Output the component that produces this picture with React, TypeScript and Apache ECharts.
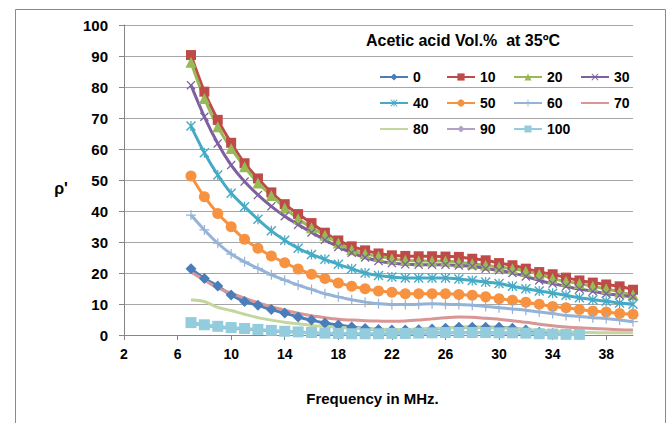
import React, { useEffect, useRef } from "react";
import * as echarts from "echarts";

// Frequency (MHz)
const freq = [7, 8, 9, 10, 11, 12, 13, 14, 15, 16, 17, 18, 19, 20, 21, 22, 23, 24, 25, 26, 27, 28, 29, 30, 31, 32, 33, 34, 35, 36, 37, 38, 39, 40];
const xTicks = [2, 6, 10, 14, 18, 22, 26, 30, 34, 38];
const seriesNames = ["0", "10", "20", "30", "40", "50", "60", "70", "80", "90", "100"];

const s0 = [21.4, 18.2, 15.8, 12.9, 10.8, 9.6, 8.2, 7.1, 5.8, 4.8, 3.9, 3.2, 2.6, 2.1, 1.8, 1.6, 1.6, 1.7, 1.9, 2.2, 2.5, 2.5, 2.5, 2.5, 2.2, 1.6, 0.9, 0.5, 0.3, 0.2];
const s10 = [90.3, 78.5, 69.4, 62, 55.4, 50.5, 46, 42.2, 39, 36.1, 33, 30.5, 28.6, 27.3, 26.3, 25.7, 25.5, 25.4, 25.4, 25.3, 25.2, 24.6, 24.1, 23.2, 22.5, 21.4, 20.3, 19.6, 18.5, 17.6, 16.9, 16.3, 15.7, 14.6];
const s20 = [88, 76.3, 67.2, 60.2, 54.3, 49, 45, 41, 37.5, 34.6, 32.2, 29.7, 27.5, 26.2, 25.4, 24.6, 24.1, 23.9, 23.9, 23.9, 23.4, 23, 22.5, 21.9, 21.4, 20.6, 19.6, 18.2, 17.3, 16.6, 15.7, 14.9, 13.9, 13];
const s30 = [80.6, 70.4, 61.8, 54.8, 49.5, 45.2, 41.5, 38.3, 35.6, 33.1, 30.7, 28.4, 26.5, 25, 23.9, 23.2, 22.8, 22.7, 22.7, 22.7, 22.4, 22.2, 21.4, 20.9, 20, 18.9, 17.6, 16.6, 15.7, 14.8, 14.1, 13.3, 12.8, 12.3];
const s40 = [67.4, 58.8, 51.6, 45.7, 41.4, 37.3, 33.6, 30.6, 28, 26, 24.4, 22.8, 21.4, 20, 19.2, 18.7, 18.4, 18.4, 18.4, 18.4, 18.1, 17.6, 17.1, 16.6, 15.7, 14.9, 14.2, 13.5, 12.8, 12, 11.4, 10.9, 10.3, 9.9];
const s50 = [51.3, 44.6, 39.2, 34.9, 30.9, 28, 25.5, 23.3, 21.3, 19.6, 18.2, 16.8, 15.7, 14.9, 14.2, 13.8, 13.3, 13.3, 13.3, 13.3, 13.1, 12.8, 12.3, 11.7, 11.2, 10.6, 9.9, 9.2, 8.8, 8.2, 7.7, 7.4, 6.9, 6.7];
const s60 = [38.7, 33.9, 29.6, 26.1, 23.6, 21.5, 19.4, 17.7, 16.1, 14.7, 13.3, 12.3, 11.4, 10.6, 10.1, 9.8, 9.8, 9.9, 10.1, 9.9, 9.8, 9.6, 9.2, 8.8, 8.4, 8, 7.4, 6.9, 6.3, 6, 5.6, 5.3, 4.8, 4.3];
const s70 = [20.3, 17.7, 15.2, 13.5, 11.9, 10.4, 9.1, 8, 7, 6.2, 5.6, 5.1, 4.8, 4.6, 4.5, 4.4, 4.5, 4.8, 5.2, 5.6, 5.8, 5.7, 5.4, 5.1, 4.6, 4.1, 3.5, 3, 2.6, 2.3, 2.1, 1.9, 1.7, 1.6];
const s80 = [11.4, 10.8, 8.9, 7.9, 6.7, 5.6, 4.8, 4.1, 3.6, 3.1, 2.8, 2.5, 2.2, 2.0, 1.9, 1.8, 1.8, 1.9, 2.0, 2.3, 2.5, 2.5, 2.4, 2.3, 2.1, 1.8, 1.5, 1.3, 1.1, 0.9, 0.8, 0.7, 0.7, 0.7];
const s90 = [3.8, 3.1, 2.6, 2.2, 1.9, 1.6, 1.3, 1.1, 0.9, 0.7, 0.5, 0.4, 0.3, 0.3, 0.3, 0.4, 0.4, 0.5, 0.6, 0.7, 0.7, 0.7, 0.7, 0.6, 0.6, 0.5, 0.3, 0.2, 0.1, 0.1];
const s100 = [4.0, 3.3, 2.8, 2.4, 2.1, 1.8, 1.5, 1.2, 1.0, 0.8, 0.6, 0.5, 0.4, 0.4, 0.4, 0.5, 0.5, 0.6, 0.7, 0.8, 0.8, 0.8, 0.8, 0.7, 0.7, 0.6, 0.4, 0.3, 0.2, 0.2];

const seriesValues = [s0, s10, s20, s30, s40, s50, s60, s70, s80, s90, s100];

const X_PATH = "path://M1,0 L5,4 L9,0 L10,1 L6,5 L10,9 L9,10 L5,6 L1,10 L0,9 L4,5 L0,1 Z";
const STAR_PATH = "path://M1,0 L5,4 L9,0 L10,1 L6,5 L10,9 L9,10 L5,6 L1,10 L0,9 L4,5 L0,1 Z M4.4,0 L5.6,0 L5.6,10 L4.4,10 Z";
const PLUS_PATH = "path://M4.4,0 L5.6,0 L5.6,4.4 L10,4.4 L10,5.6 L5.6,5.6 L5.6,10 L4.4,10 L4.4,5.6 L0,5.6 L0,4.4 L4.4,4.4 Z";

const styles = [
  { color: "#4A7EBB", symbol: "diamond", size: 11 },
  { color: "#BE4B48", symbol: "rect", size: 10 },
  { color: "#98B954", symbol: "triangle", size: 11 },
  { color: "#7D60A0", symbol: X_PATH, size: 9 },
  { color: "#46AAC5", symbol: STAR_PATH, size: 10 },
  { color: "#F69240", symbol: "circle", size: 11 },
  { color: "#95B3D7", symbol: PLUS_PATH, size: 10 },
  { color: "#D99694", symbol: "none", size: 0 },
  { color: "#C3D69B", symbol: "none", size: 0 },
  { color: "#B3A2C7", symbol: "diamond", size: 9 },
  { color: "#93CDDD", symbol: "rect", size: 11 },
];

const FONT = '"Liberation Sans", Arial, sans-serif';

export default function App() {
  const ref = useRef<HTMLDivElement>(null);
  useEffect(() => {
    const chart = echarts.init(ref.current!, null, { renderer: "svg" });

    const series = seriesNames.map((name, i) => {
      const st = styles[i];
      const vals = seriesValues[i];
      return {
        name,
        type: "line",
        data: vals.map((v, k) => [freq[k], v]),
        smooth: 0.3,
        symbol: st.symbol,
        symbolSize: st.size,
        showSymbol: st.symbol !== "none",
        lineStyle: { color: st.color, width: 3 },
        itemStyle: { color: st.color },
        emphasis: { disabled: true },
      };
    });

    const legendCols = [
      ["0", "40", "80"],
      ["10", "50", "90"],
      ["20", "60", "100"],
      ["30", "70"],
    ];
    const legendLeft = [379, 446, 513, 580];
    const legends = legendCols.map((col, ci) => ({
      orient: "vertical",
      left: legendLeft[ci],
      top: 70,
      padding: 0,
      itemGap: 12,
      itemWidth: 28,
      itemHeight: 9,
      textStyle: { fontFamily: FONT, fontWeight: "bold", fontSize: 14, color: "#000", lineHeight: 14 },
      data: col.map((n) =>
        n === "70" || n === "80" ? { name: n, itemStyle: { opacity: 0 } } : { name: n }
      ),
    }));

    const option = {
      animation: false,
      backgroundColor: "#fff",
      title: {
        text: "Acetic acid Vol.%  at 35ºC",
        left: 366,
        top: 32,
        padding: 0,
        textStyle: { fontFamily: FONT, fontWeight: "bold", fontSize: 16, color: "#000" },
      },
      legend: legends,
      grid: { left: 124, right: 37, top: 25, bottom: 88 },
      xAxis: {
        type: "value",
        min: 2,
        max: 40,
        interval: 4,
        name: "Frequency in MHz.",
        nameLocation: "middle",
        nameGap: 56,
        nameTextStyle: { fontFamily: FONT, fontWeight: "bold", fontSize: 15, color: "#000", padding: [0, 12, 0, 0] },
        axisLine: { show: true, lineStyle: { color: "#868686", width: 1 } },
        axisTick: { show: true, length: 5, lineStyle: { color: "#868686" }, customValues: xTicks },
        axisLabel: { fontFamily: FONT, fontWeight: "bold", fontSize: 14, color: "#000", margin: 12, customValues: xTicks },
        splitLine: { show: false },
      },
      yAxis: {
        type: "value",
        min: 0,
        max: 100,
        interval: 10,
        axisLine: { show: true, lineStyle: { color: "#868686", width: 1 } },
        axisTick: { show: true, length: 5, lineStyle: { color: "#868686" } },
        axisLabel: { fontFamily: FONT, fontWeight: "bold", fontSize: 15, color: "#000", margin: 16 },
        splitLine: { show: true, lineStyle: { color: "#A6A6A6", width: 1 } },
      },
      graphic: [
        {
          type: "rect",
          silent: true,
          z: -10,
          shape: { x: 15.5, y: 9.5, width: 650, height: 430 },
          style: { fill: "none", stroke: "#8A8A8A", lineWidth: 1 },
        },
        {
          type: "text",
          x: 61,
          y: 188,
          style: {
            text: "ρ'",
            font: 'bold 16px "Liberation Sans", Arial, sans-serif',
            fill: "#000",
            align: "center",
            verticalAlign: "middle",
            textAlign: "center",
            textVerticalAlign: "middle",
          },
        },
      ],
      series,
    };

    chart.setOption(option as any);
    return () => chart.dispose();
  }, []);
  return (
    <div
      ref={ref}
      style={{ position: "absolute", left: 0, top: 0, width: 670, height: 423, background: "#fff" }}
    />
  );
}
